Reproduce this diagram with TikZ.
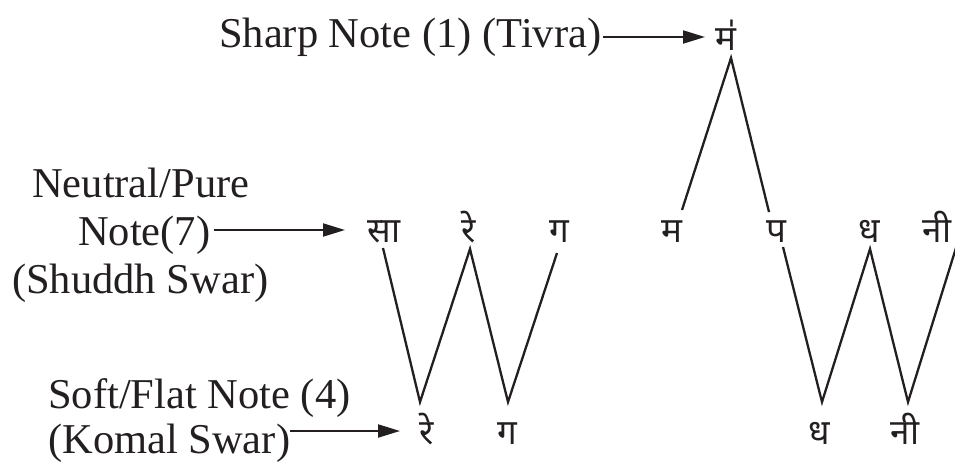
\documentclass[tikz,border=0pt]{standalone}
\usepackage{fontspec}
\setmainfont{Liberation Serif}
\newfontfamily\deva[Script=Devanagari]{Noto Sans}
\usetikzlibrary{arrows.meta}
\definecolor{ink}{HTML}{231F20}
\begin{document}
\begin{tikzpicture}[x=1pt,y=-1pt,
  lbl/.style={inner sep=0pt, anchor=base west, font=\fontsize{42.5}{48}\selectfont, text=ink},
  swar/.style={inner sep=0pt, anchor=base, font=\deva\fontsize{35}{40}\selectfont, text=ink},
  pointer/.style={draw=ink, line width=2pt, -{Triangle[length=22pt,width=13pt]}},
  zig/.style={draw=ink, line width=2.3pt, line join=miter}]
\useasboundingbox (0,0) rectangle (955,463);
% left labels
\node[lbl] (sharp) at (219,47) {Sharp Note (1) (Tivra)};
\node[lbl] (neutral) at (32,197) {Neutral/Pure};
\node[lbl] (note7) at (78,245) {Note(7)};
\node[lbl] (shuddh) at (12,293) {(Shuddh Swar)};
\node[lbl] (soft) at (48,408) {Soft/Flat Note (4)};
\node[lbl] (komal) at (48,453) {(Komal Swar)};
% notes
\node[swar] (tma) at (726,50) {म॑};
\node[swar] (sa) at (384,242) {सा};
\node[swar] (re) at (469,242) {रे};
\node[swar] (ga) at (559,242) {ग};
\node[swar] (ma) at (672,242) {म};
\node[swar] (pa) at (776,242) {प};
\node[swar] (dha) at (869,242) {ध};
\node[swar] (ni) at (937,242) {नी};
\node[swar] (kre) at (427,444) {रे};
\node[swar] (kga) at (507,444) {ग};
\node[swar] (kdha) at (819,444) {ध};
\node[swar] (kni) at (905,444) {नी};
% arrows
\coordinate (s0) at ([xshift=2pt,yshift=10pt]sharp.base east);
\coordinate (s1) at (705,37);
\draw[pointer] (s0) -- (s1);
\coordinate (n0) at ([xshift=3pt,yshift=15pt]note7.base east);
\coordinate (n1) at (345,230);
\draw[pointer] (n0) -- (n1);
\coordinate (k0) at ([xshift=0pt,yshift=22pt]komal.base east);
\coordinate (k1) at (400,431);
\draw[pointer] (k0) -- (k1);
% zigzags
\coordinate (t1) at (682,210);
\coordinate (t2) at (731,58);
\coordinate (t3) at (769,212);
\draw[zig] (t1) -- (t2) -- (t3);
\coordinate (a1) at (383,248);
\coordinate (a2) at (420,402);
\coordinate (a3) at (470,249);
\coordinate (a4) at (508,402);
\coordinate (a5) at (557,253);
\draw[zig] (a1) -- (a2) -- (a3) -- (a4) -- (a5);
\coordinate (b1) at (783,247);
\coordinate (b2) at (822,402);
\coordinate (b3) at (870,249);
\coordinate (b4) at (908,402);
\coordinate (b5) at (960,235);
\draw[zig] (b1) -- (b2) -- (b3) -- (b4) -- (b5);
\end{tikzpicture}
\end{document}
